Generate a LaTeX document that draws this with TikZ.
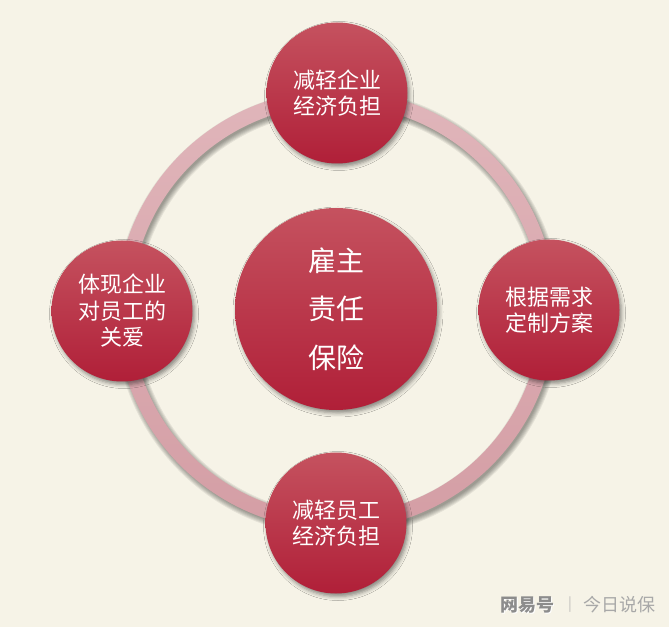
\documentclass[tikz,border=0pt]{standalone}
\usepackage{fontspec}
\newfontfamily\cjk{Noto Sans CJK SC}
\usetikzlibrary{shadows.blur}
\definecolor{bg}{HTML}{F6F3E7}
\definecolor{ctop}{HTML}{C5525F}
\definecolor{cbot}{HTML}{B01F38}
\definecolor{rtop}{HTML}{E0B5BA}
\definecolor{rbot}{HTML}{D49EA5}
\definecolor{wmark}{HTML}{8C8C8C}
\definecolor{wmarklight}{HTML}{A8A8A8}
\tikzset{
  softshadow/.style={blur shadow={shadow xshift=2pt, shadow yshift=-3pt, shadow blur radius=4pt, shadow opacity=45}},
  bubble/.style={circle, inner sep=0pt, top color=ctop, bottom color=cbot, text=white,
    align=center, font=\cjk\fontsize{22}{26.5}\selectfont, softshadow},
  smallbubble/.style={bubble, minimum size=141pt},
  bigbubble/.style={bubble, minimum size=202pt, font=\cjk\fontsize{28}{48.5}\selectfont},
  ring/.style={even odd rule, top color=rtop, bottom color=rbot},
  ringshadow/.style={draw=black, draw opacity=0.07, fill=none},
  wm/.style={inner sep=0pt, font=\cjk\fontsize{18}{18}\selectfont},
}
\begin{document}
\begin{tikzpicture}[x=1pt,y=1pt]
\fill[bg] (0,0) rectangle (669,627);
\useasboundingbox (0,0) rectangle (669,627);
\coordinate (o) at (336,317);
\coordinate (os) at (338,314);
\foreach \w in {23,21,19,17,15,13} {
  \draw[ringshadow, line width=\w pt] (os) circle (212.5);
}
\shade[ring] (o) circle (220) (o) circle (205);
\node[bigbubble] (core) at (336,318) {雇主\\责任\\保险};
\node[smallbubble] (top) at (337,534) {减轻企业\\经济负担};
\node[smallbubble] (left) at (122,316) {体现企业\\对员工的\\关爱};
\node[smallbubble] (right) at (549,317) {根据需求\\定制方案};
\node[smallbubble] (bottom) at (336,104) {减轻员工\\经济负担};
% watermark
\node[wm, text=white, font=\cjk\bfseries\fontsize{18}{18}\selectfont] at (528,21) {网易号};
\node[wm, text=wmark, font=\cjk\bfseries\fontsize{18}{18}\selectfont] (wm1) at (527,22) {网易号};
\node[wm, text=wmarklight!70!bg, font=\cjk\fontsize{14}{14}\selectfont] (wm2) at (570,22) {|};
\node[wm, text=wmarklight] (wm3) at (619,22) {今日说保};
\end{tikzpicture}
\end{document}
